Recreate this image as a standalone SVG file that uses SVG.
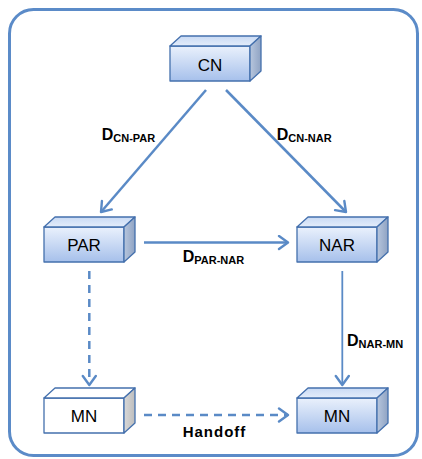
<svg xmlns="http://www.w3.org/2000/svg" xmlns:xlink="http://www.w3.org/1999/xlink" width="422" height="459" viewBox="0 0 422 459">
<defs>
<linearGradient id="gFront" x1="0" y1="0" x2="0" y2="1">
<stop offset="0" stop-color="#eaf1fc"/>
<stop offset="1" stop-color="#a6c0eb"/>
</linearGradient>
<linearGradient id="gTop" x1="0" y1="0" x2="0" y2="1">
<stop offset="0" stop-color="#c9daf4"/>
<stop offset="1" stop-color="#e4edfa"/>
</linearGradient>
<linearGradient id="gSide" x1="0" y1="0" x2="1" y2="0">
<stop offset="0" stop-color="#b7c6dd"/>
<stop offset="1" stop-color="#8fa3c3"/>
</linearGradient>
<linearGradient id="gSideGray" x1="0" y1="0" x2="1" y2="0">
<stop offset="0" stop-color="#d8d8d8"/>
<stop offset="1" stop-color="#bdbdbd"/>
</linearGradient>
<g id="boxBlue">
<rect x="0" y="0" width="80" height="35" fill="url(#gFront)" class="edge"/>
<path d="M0,0 L11,-10 L91,-10 L80,0 Z" fill="url(#gTop)" class="edge"/>
<path d="M80,0 L91,-10 L91,25 L80,35 Z" fill="url(#gSide)" class="edge"/>
</g>
<g id="boxWhite">
<rect x="0" y="0" width="80" height="35" fill="#ffffff" class="edge"/>
<path d="M0,0 L11,-10 L91,-10 L80,0 Z" fill="#ffffff" class="edge"/>
<path d="M80,0 L91,-10 L91,25 L80,35 Z" fill="url(#gSideGray)" class="edge"/>
</g>
<marker id="arr" markerUnits="userSpaceOnUse" markerWidth="16" markerHeight="16" refX="11" refY="8" orient="auto" viewBox="0 0 16 16">
<path d="M2,1.5 L11,8 L2,14.5" fill="none" stroke="#5a8ac6" stroke-width="2.4" stroke-linecap="round" stroke-linejoin="round"/>
</marker>
</defs>
<style>
.edge{stroke:#4470ad;stroke-width:1.3;stroke-linejoin:round}
.name{font-family:"Liberation Sans",Arial,sans-serif;font-size:17px;fill:#000;text-anchor:middle}
.lbl{font-family:"Liberation Sans",Arial,sans-serif;font-size:16px;font-weight:bold;fill:#000}
.sub{font-size:11px}
.conn{fill:none;stroke:#5a8ac6;stroke-width:2.5;marker-end:url(#arr)}
.dash{stroke-dasharray:8 6}
</style>
<rect x="0" y="0" width="422" height="459" fill="#ffffff"/>
<rect x="9.5" y="9.5" width="408" height="446" rx="24" ry="24" fill="#ffffff" stroke="#5b8bc8" stroke-width="3"/>
<g id="connectors">
<line class="conn" x1="206" y1="90" x2="101" y2="212"/>
<line class="conn" x1="226" y1="90" x2="346" y2="212"/>
<line class="conn" x1="144" y1="242.5" x2="288" y2="242.5"/>
<line class="conn" x1="342.3" y1="271" x2="342.3" y2="385" style="stroke-width:1.8"/>
<line class="conn dash" x1="89.3" y1="271" x2="89.3" y2="385"/>
<line class="conn dash" x1="144" y1="415" x2="288" y2="415"/>
</g>
<g id="labels">
<text class="lbl" x="101.7" y="140">D<tspan class="sub" dy="2">CN-PAR</tspan></text>
<text class="lbl" x="276.7" y="140">D<tspan class="sub" dy="2">CN-NAR</tspan></text>
<text class="lbl" x="182.7" y="262">D<tspan class="sub" dy="2">PAR-NAR</tspan></text>
<text class="lbl" x="347" y="346">D<tspan class="sub" dy="2">NAR-MN</tspan></text>
<text class="lbl" x="182.7" y="437" style="font-size:15px;letter-spacing:1px">Handoff</text>
</g>
<g id="node-CN">
<use xlink:href="#boxBlue" x="170" y="46"/>
<text class="name" x="210" y="71">CN</text>
</g>
<g id="node-PAR">
<use xlink:href="#boxBlue" x="44" y="227"/>
<text class="name" x="84" y="250.5">PAR</text>
</g>
<g id="node-NAR">
<use xlink:href="#boxBlue" x="297" y="227"/>
<text class="name" x="337" y="250.5">NAR</text>
</g>
<g id="node-MN-old">
<use xlink:href="#boxWhite" x="44" y="398"/>
<text class="name" x="84" y="422">MN</text>
</g>
<g id="node-MN-new">
<use xlink:href="#boxBlue" x="297" y="398"/>
<text class="name" x="337" y="422">MN</text>
</g>
</svg>
